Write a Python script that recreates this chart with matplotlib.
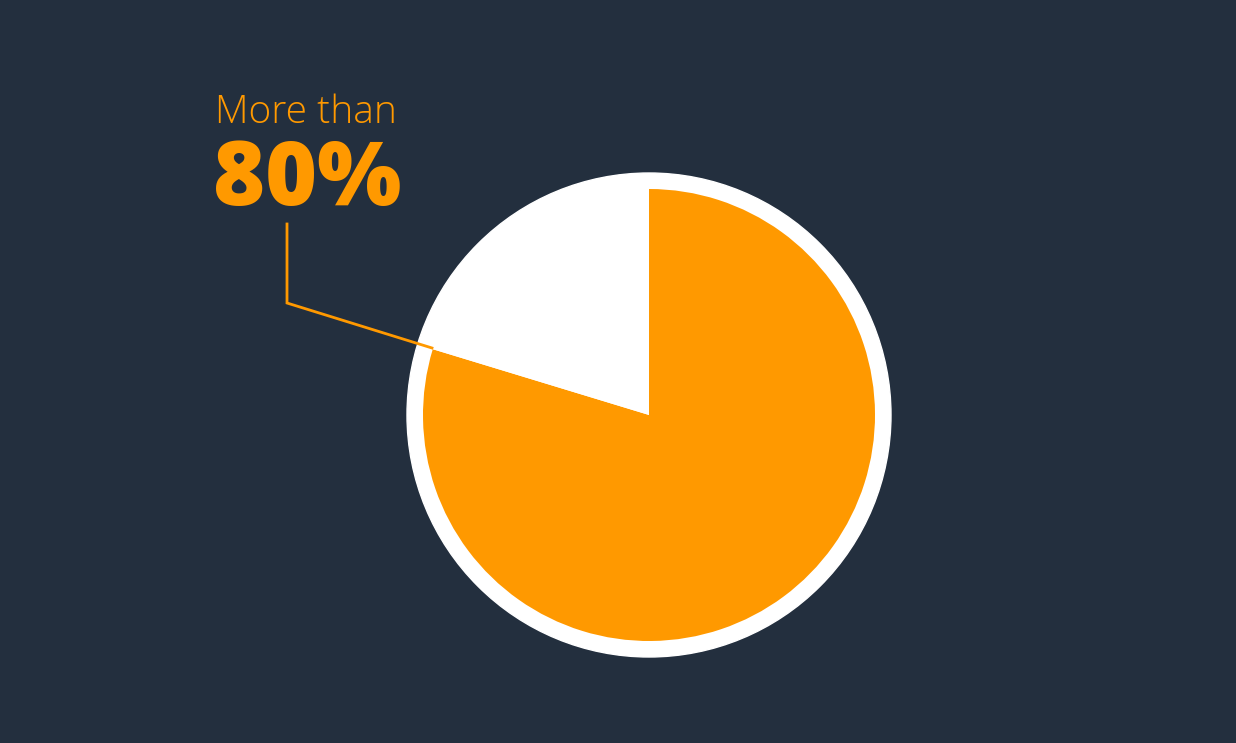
import matplotlib
matplotlib.use("Agg")
import matplotlib.pyplot as plt
from matplotlib.patches import Circle

# data
labels = ["Yes", "No"]
shares = [79.7, 20.3]
headline = "80%"
subline = "More than"

bg = "#232F3E"
orange = "#FF9900"
W, H = 1236, 743

fig = plt.figure(figsize=(W / 100, H / 100), dpi=100, facecolor=bg)
ax = fig.add_axes([0, 0, 1, 1])
ax.set_facecolor(bg)

cx, cy = 649, H - 415
ax.add_patch(Circle((cx, cy), 242, color="white", zorder=1))
wedges, _ = ax.pie(shares, colors=[orange, "white"], startangle=90,
                   counterclock=False, radius=226, center=(cx, cy),
                   wedgeprops=dict(linewidth=0))
for w in wedges:
    w.set_zorder(2)

ax.set_xlim(0, W)
ax.set_ylim(0, H)
ax.axis("off")

# leader line
ax.plot([287, 287, 432], [H - 224, H - 303, H - 348], color=orange, lw=2,
        zorder=3, solid_joinstyle="miter")

ax.text(215, H - 123, subline, color=orange, fontsize=28, family="Open Sans",
        fontweight="light", va="baseline", ha="left")
ax.text(213, H - 205, headline, color=orange, fontsize=64, family="Open Sans",
        fontweight="heavy", va="baseline", ha="left")

fig.savefig("out.png", dpi=100, facecolor=bg)
